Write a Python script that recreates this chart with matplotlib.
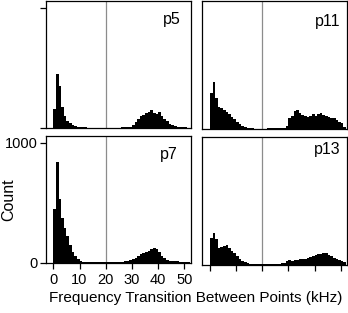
import numpy as np
import matplotlib
matplotlib.use("Agg")
import matplotlib.pyplot as plt

plt.rcParams["font.family"] = ["Liberation Sans", "DejaVu Sans"]

# 1 kHz bins, 0..52 kHz
bin_edges = np.arange(0, 53)

counts_p5 = [157, 446, 350, 171, 96, 61, 41, 25, 14, 8,
             6, 5, 5, 4, 4, 4, 4, 4, 3, 3,
             3, 3, 3, 3, 4, 4, 5, 5, 6, 8,
             27, 50, 77, 102, 110, 121, 137, 151, 124, 115,
             137, 104, 77, 55, 33, 22, 14, 10, 8, 6,
             5, 4]
counts_p11 = [303, 390, 256, 185, 173, 160, 146, 124, 105, 83,
              63, 44, 28, 17, 10, 8, 7, 6, 5, 5,
              6, 6, 7, 7, 8, 8, 8, 10, 14, 30,
              91, 113, 154, 160, 132, 118, 113, 105, 113, 124,
              113, 124, 132, 118, 113, 105, 96, 91, 77, 63,
              50, 22]
counts_p7 = [450, 839, 533, 372, 289, 225, 150, 94, 58, 31,
             17, 12, 10, 9, 8, 8, 7, 7, 7, 7,
             8, 8, 9, 9, 10, 10, 11, 13, 17, 22,
             33, 42, 56, 75, 86, 94, 103, 119, 128, 117,
             89, 61, 39, 25, 19, 17, 17, 17, 11, 11,
             11, 6]
counts_p13 = [218, 267, 210, 140, 148, 155, 165, 135, 115, 95,
              72, 47, 30, 19, 14, 9, 7, 6, 5, 5,
              6, 6, 7, 7, 8, 8, 8, 10, 17, 30,
              39, 30, 39, 39, 47, 50, 47, 58, 66, 74,
              80, 85, 88, 99, 94, 83, 72, 58, 50, 41,
              30, 25]

panel_names = ["p5", "p11", "p7", "p13"]
x_ticks = [0, 10, 20, 30, 40, 50]
y_ticks = [0, 1000]
divider = 20

fig = plt.figure(figsize=(3.48, 3.13), dpi=100)
W, H = 348.0, 313.0


def px_axes(l, t, r, b):
    return fig.add_axes([l / W, 1 - b / H, (r - l) / W, (b - t) / H])


ax5 = px_axes(45.7, 1, 191, 128)
ax11 = px_axes(202.3, 1, 347.3, 129.3)
ax7 = px_axes(45.7, 136, 191, 263)
ax13 = px_axes(202.3, 137.3, 347.3, 264.7)

axes = [ax5, ax11, ax7, ax13]
data = [counts_p5, counts_p11, counts_p7, counts_p13]
label_pos = [(0.93, 0.91), (0.95, 0.90), (0.91, 0.91), (0.95, 0.96)]

for ax, cnt, name, pos in zip(axes, data, panel_names, label_pos):
    ax.bar(bin_edges[:-1], cnt, width=1.0, align="edge", color="black",
           linewidth=0)
    ax.axvline(divider, color="#8c8c8c", lw=0.9, zorder=0)
    ax.set_xlim(-2.9, 52.5)
    ax.set_ylim(0, 1058)
    for s in ax.spines.values():
        s.set_linewidth(0.9)
    ax.tick_params(direction="out", length=4, width=0.9, labelsize=10.5)
    ax.text(pos[0], pos[1], name, transform=ax.transAxes, ha="right",
            va="top", fontsize=11.5)

# ticks: left column has y ticks, bottom row has x ticks
ax5.set_xticks([])
ax11.set_xticks([])
ax11.set_yticks([])
ax13.set_yticks([])
ax5.set_yticks(y_ticks)
ax5.set_yticklabels([])
ax7.set_yticks(y_ticks)
ax7.set_xticks(x_ticks)
ax13.set_xticks(x_ticks)
ax13.set_xticklabels([])
ax7.tick_params(axis="y", pad=1.5)
ax7.tick_params(axis="x", pad=3)

fig.text(8.5 / W, 1 - 199.5 / H, "Count", rotation=90,
         ha="center", va="center", fontsize=11.5)
fig.text(195.5 / W, 1 - 298 / H, "Frequency Transition Between Points (kHz)",
         ha="center", va="center", fontsize=11)

fig.savefig("out.png", dpi=100)
